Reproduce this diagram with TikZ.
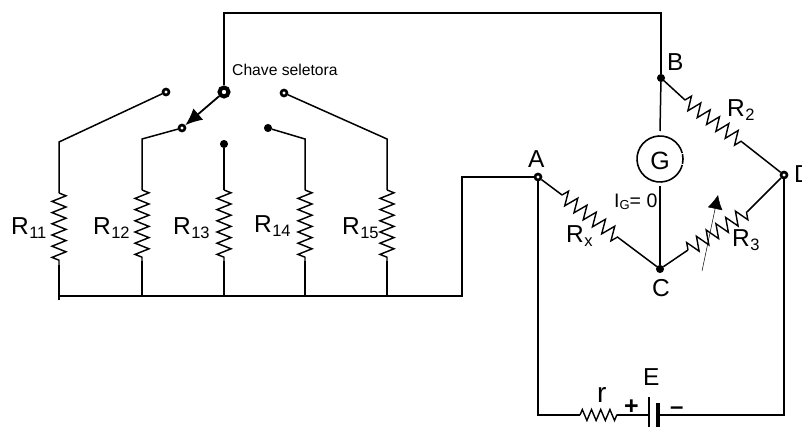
\documentclass[tikz,border=0pt]{standalone}
\usepackage{fontspec}
\setmainfont{Liberation Sans}
\usetikzlibrary{decorations.pathmorphing,arrows.meta}
\tikzset{
  wire/.style={line width=1.5pt,line join=miter},
  res/.style={line width=1.4pt,decorate,decoration={zigzag,segment length=11.2pt,amplitude=7pt}},
  resbr/.style={line width=1.4pt,decorate,decoration={zigzag,segment length=11.6pt,amplitude=7pt}},
  ress/.style={line width=1.4pt,decorate,decoration={zigzag,segment length=9.2pt,amplitude=5.5pt}},
  opendot/.style={circle,draw=black,fill=white,line width=2.6pt,inner sep=0pt,minimum size=6pt},
  soliddot/.style={circle,draw=black,fill=black,line width=1pt,inner sep=0pt,minimum size=7pt},
  pivotdot/.style={circle,draw=black,fill=white,line width=4pt,inner sep=0pt,minimum size=9pt},
  lab/.style={anchor=base west,inner sep=0pt,font=\fontsize{24.5}{24.5}\selectfont},
  sublab/.style={anchor=base west,inner sep=0pt,font=\fontsize{16.5}{16.5}\selectfont},
  meter/.style={circle,draw=none,inner sep=0pt,minimum size=46pt},
}
\begin{document}
\begin{tikzpicture}[x=1pt,y=-1pt]
\useasboundingbox (0,0) rectangle (802,427);
% junctions
\node[pivotdot] (P) at (224,92) {};
\node[opendot] (C1) at (166,92) {};
\node[opendot] (C2) at (182,128) {};
\node[soliddot] (C3) at (224,144) {};
\node[soliddot] (C4) at (268,128) {};
\node[opendot] (C5) at (284,93) {};
\node[soliddot] (B) at (661,78) {};
\node[opendot] (A) at (538,177) {};
\node[opendot] (D) at (784,175) {};
\node[soliddot] (CC) at (660,269) {};
\node[meter] (G) at (660,159) {};
\node[font=\fontsize{25}{25}\selectfont,inner sep=0pt] (Gt) at (660,161) {G};
% coordinates
\coordinate (T1) at (224,13);
\coordinate (T2) at (661,13);
\coordinate (k1) at (59,142);
\coordinate (k2) at (142,139);
\coordinate (k4) at (305,139);
\coordinate (k5) at (387,139);
\foreach \n/\x/\a/\b in {1/59/193/265,2/142/190/261,3/224/190/261,4/305/190/261,5/387/190/261}{
  \coordinate (ra\n) at (\x,\a);
  \coordinate (rb\n) at (\x,\b);
  \coordinate (bot\n) at (\x,296);
}
\coordinate (j1) at (462,296);
\coordinate (j2) at (462,177);
\coordinate (e1) at (538,415);
\coordinate (e2) at (784,415);
% top wire
\draw[wire] (P) -- (T1) -- (T2) -- (B);
% branches
\draw[wire] (C1) -- (k1) -- (ra1);
\draw[wire] (C2) -- (k2) -- (ra2);
\draw[wire] (C3) -- (ra3);
\draw[wire] (C4) -- (k4) -- (ra4);
\draw[wire] (C5) -- (k5) -- (ra5);
\foreach \n in {1,...,5}{
  \draw[res] (ra\n) -- (rb\n);
  \draw[wire] (rb\n) -- (bot\n);
}
\draw[wire] (59,300) -- (bot1) -- (bot5) -- (j1) -- (j2) -- (A);
% selector arm
\draw[line width=1.8pt,-{Latex[length=17pt,width=15pt]}] (P) -- (C2);
% bridge
\coordinate (s2a) at (685,100); \coordinate (s2b) at (742,142);
\coordinate (sxa) at (562,195); \coordinate (sxb) at (620,239);
\coordinate (s3a) at (688,250); \coordinate (s3b) at (747,212);
\draw[wire] (B) -- (s2a); \draw[resbr] (s2a) -- (s2b); \draw[wire] (s2b) -- (D);
\draw[wire] (A) -- (sxa); \draw[resbr] (sxa) -- (sxb); \draw[wire] (sxb) -- (CC);
\draw[wire] (CC) -- (s3a); \draw[resbr] (s3a) -- (s3b); \draw[wire] (s3b) -- (D);
\draw[wire] (B) -- (660,131);
\draw[wire] (660,186) -- (CC);
\draw[line width=1.6pt] (G.center) ++(-15:23) arc[start angle=-15,end angle=-345,radius=23] ;
\draw[line width=1.6pt] (G.center) ++(12:23) arc[start angle=12,end angle=-12,radius=23];
% variable arrow
\coordinate (va) at (702,271); \coordinate (vb) at (718,195);
\draw[line width=0.5pt,-{Latex[length=14pt,width=15pt]}] (va) -- (vb);
% battery loop
\node[inner sep=0pt,minimum size=0pt] (pl1) at (649,415) {};
\node[inner sep=0pt,minimum size=0pt] (pl2) at (658,415) {};
\coordinate (ra) at (580,415); \coordinate (rb) at (617,415);
\draw[wire] (A) -- (e1) -- (ra);
\draw[ress] (ra) -- (rb);
\draw[wire] (rb) -- (pl1.center);
\draw[wire] (pl2.center) -- (e2) -- (D);
\draw[line width=1.8pt] (649,397) -- (649,427);
\draw[line width=3.2pt] (658,403) -- (658,427);
% text
\node[anchor=base west,inner sep=0pt,font=\fontsize{16}{16}\selectfont,scale=0.98] (chave) at (232,76) {Chave seletora};
\node[lab] (l11) at (11,235) {R}; \node[sublab] at (l11.base east) [yshift=-4pt] {11};
\node[lab] (l12) at (93,235) {R}; \node[sublab] at (l12.base east) [yshift=-4pt] {12};
\node[lab] (l13) at (173,235) {R}; \node[sublab] at (l13.base east) [yshift=-4pt] {13};
\node[lab] (l14) at (254,233) {R}; \node[sublab] at (l14.base east) [yshift=-4pt] {14};
\node[lab] (l15) at (342,235) {R}; \node[sublab] at (l15.base east) [yshift=-4pt] {15};
\node[lab] (lA) at (528,168) {A};
\node[lab] (lB) at (667,71) {B};
\node[lab] (lC) at (652,297) {C};
\node[lab] (lD) at (794,183) {D};
\node[lab] (lr2) at (727,117) {R}; \node[sublab] at (lr2.base east) [yshift=-4pt] {2};
\node[lab] (lr3) at (732,247) {R}; \node[sublab] at (lr3.base east) [yshift=-4pt] {3};
\node[lab] (lrx) at (566,243) {R}; \node[sublab] at (lrx.base east) [yshift=-4pt] {x};
\node[anchor=base west,inner sep=0pt,font=\fontsize{19.5}{19.5}\selectfont] (ig) at (614,208) {I\raisebox{-2pt}{\fontsize{13}{13}\selectfont G}= 0};
\node[lab] (lE) at (643,385) {E};
\node[lab,font=\fontsize{28}{28}\selectfont] (lr) at (597,402) {r};
\node[lab,font=\bfseries\fontsize{25}{25}\selectfont] (plus) at (624,414) {+};
\node[lab,font=\bfseries\fontsize{24}{24}\selectfont] (minus) at (670,414) {\textendash};
\end{tikzpicture}
\end{document}
